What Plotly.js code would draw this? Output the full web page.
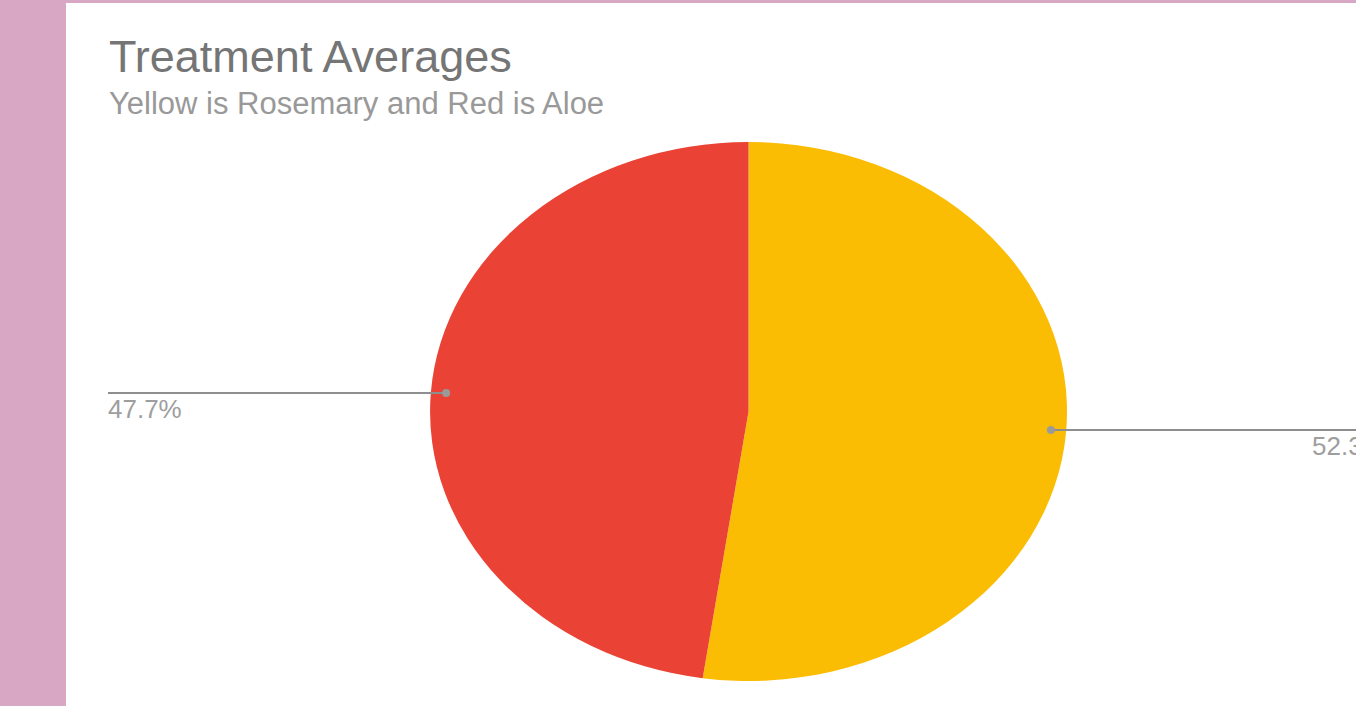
<!DOCTYPE html>
<html>
<head>
<meta charset="utf-8">
<script src="https://cdn.plot.ly/plotly-3.0.1.min.js"></script>
<style>
  html, body { margin: 0; padding: 0; background: #d8a7c4; width: 1356px; height: 706px; overflow: hidden; }
  #chart { position: absolute; left: 66px; top: 3px; width: 1290px; height: 703px; }
</style>
</head>
<body>
<div id="chart"></div>
<script>
// ---- data ----
const labels = ['Rosemary', 'Aloe'];
const values = [52.3, 47.7];
const colors = ['#fbbc04', '#ea4335'];
const titleText = 'Treatment Averages';
const subtitleText = 'Yellow is Rosemary and Red is Aloe';

// ---- layout constants ----
const W = 1290, H = 703;
const domX = [0.3202, 0.7380];
const domY = [0.0356, 0.8023];
const stretchX = 318.5 / 269.5;   // reference pie is drawn as a horizontally stretched ellipse
const labelColor = '#9e9e9e';
const lineColor = '#8e8e8e';
const FONT = 'Liberation Sans, Arial, sans-serif';

const cx = (domX[0] + domX[1]) / 2 * W;
const cy = (1 - (domY[0] + domY[1]) / 2) * H;
const r = Math.min((domX[1] - domX[0]) * W, (domY[1] - domY[0]) * H) / 2;
const rx = r * stretchX, ry = r;

const total = values.reduce((a, b) => a + b, 0);
const shapes = [];
const annotations = [
  { text: subtitleText, xref: 'paper', yref: 'paper', x: 41 / W, y: 1 - 101 / H,
    xanchor: 'left', yanchor: 'middle', showarrow: false,
    font: { family: FONT, size: 31, color: '#999999' } }
];

let cum = 0;
values.forEach((v, i) => {
  const frac = v / total;
  const mid = (cum + frac / 2) * 2 * Math.PI;   // clockwise from 12 o'clock
  cum += frac;
  const k = 0.952;
  const px = cx + k * rx * Math.sin(mid);
  const py = cy - k * ry * Math.cos(mid);
  const right = Math.sin(mid) > 0;
  const endX = right ? W + 5 : 42;
  const toPX = x => x / W, toPY = y => 1 - y / H;
  shapes.push({ type: 'line', xref: 'paper', yref: 'paper',
    x0: toPX(px), y0: toPY(py), x1: toPX(endX), y1: toPY(py),
    line: { color: lineColor, width: 2 } });
  shapes.push({ type: 'circle', xref: 'paper', yref: 'paper',
    x0: toPX(px - 4), x1: toPX(px + 4), y0: toPY(py - 4), y1: toPY(py + 4),
    fillcolor: '#9a9a9a', line: { width: 0 } });
  annotations.push({
    text: (frac * 100).toFixed(1) + '%', xref: 'paper', yref: 'paper',
    x: right ? toPX(1244) : toPX(40), y: toPY(py + 16),
    xanchor: 'left', yanchor: 'middle', showarrow: false,
    font: { family: FONT, size: 26, color: labelColor }
  });
});

const trace = {
  type: 'pie',
  labels: labels,
  values: values,
  marker: { colors: colors, line: { width: 0 } },
  sort: false,
  direction: 'clockwise',
  rotation: 0,
  textinfo: 'none',
  hoverinfo: 'label+percent',
  domain: { x: domX, y: domY },
  showlegend: false
};

const layout = {
  width: W, height: H,
  margin: { l: 0, r: 0, t: 0, b: 0 },
  paper_bgcolor: '#ffffff',
  showlegend: false,
  title: { text: titleText, xref: 'paper', yref: 'paper', x: 43 / W, y: 1 - 53 / H,
    xanchor: 'left', yanchor: 'middle',
    font: { family: FONT, size: 45, color: '#757575' } },
  shapes: shapes,
  annotations: annotations
};

Plotly.newPlot('chart', [trace], layout, { staticPlot: true }).then(gd => {
  const pl = gd.querySelector('.pielayer');
  if (pl) {
    pl.setAttribute('transform',
      'translate(' + cx + ',0) scale(' + stretchX + ',1) translate(' + (-cx) + ',0)');
  }
});
</script>
</body>
</html>
